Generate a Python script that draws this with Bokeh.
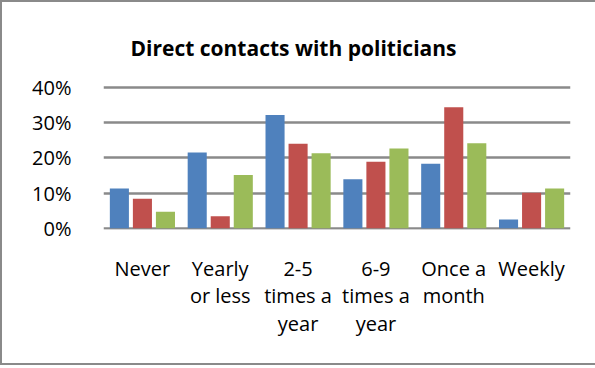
from bokeh.plotting import figure
from bokeh.models import Range1d, FactorRange, NumeralTickFormatter, FixedTicker
from bokeh.transform import dodge
from bokeh.embed import file_html
from bokeh.resources import INLINE

title_text = "Direct contacts with politicians"
categories = ["Never", "Yearly\nor less", "2-5\ntimes a\nyear", "6-9\ntimes a\nyear", "Once a\nmonth", "Weekly"]
series1 = [0.113, 0.215, 0.322, 0.139, 0.183, 0.025]
series2 = [0.084, 0.034, 0.240, 0.189, 0.344, 0.101]
series3 = [0.047, 0.151, 0.213, 0.227, 0.242, 0.113]
colors = ["#4F81BD", "#C0504D", "#9BBB59"]
y_ticks = [0.0, 0.1, 0.2, 0.3, 0.4]

data = dict(cat=categories, s1=series1, s2=series2, s3=series3)

p = figure(
    width=593, height=361,
    x_range=FactorRange(*categories, range_padding=0.0),
    y_range=Range1d(-0.0038, 0.4117),
    output_backend="svg", toolbar_location=None,
    min_border_left=101, min_border_right=27,
    min_border_top=81, min_border_bottom=138,
    title=title_text,
)
p.x_range.factor_padding = 0.0

for key, off, col in (("s1", -0.296, colors[0]), ("s2", 0.0, colors[1]), ("s3", 0.296, colors[2])):
    p.vbar(x=dodge("cat", off, range=p.x_range), top=key, bottom=0, width=0.245,
           source=data, fill_color=col, line_color=None)

p.title.align = "left"
p.title.offset = 27
p.title.vertical_align = "top"
p.title.text_font = "Open Sans"
p.title.text_font_style = "bold"
p.title.text_font_size = "21px"
p.title.text_color = "#000000"
p.title.standoff = 40

p.yaxis.ticker = FixedTicker(ticks=y_ticks)
p.yaxis.formatter = NumeralTickFormatter(format="0%")
p.yaxis.axis_line_color = None
p.yaxis.major_tick_line_color = None
p.yaxis.minor_tick_line_color = None
p.yaxis.major_label_standoff = 26
p.yaxis.major_label_text_font = "Open Sans"
p.yaxis.major_label_text_font_size = "20px"
p.yaxis.major_label_text_color = "#000000"

p.xaxis.axis_line_color = None
p.xaxis.major_tick_line_color = None
p.xaxis.minor_tick_line_color = None
p.xaxis.major_label_standoff = 19
p.xaxis.major_label_text_font = "Open Sans"
p.xaxis.major_label_text_font_size = "20px"
p.xaxis.major_label_text_color = "#000000"
p.xaxis.major_label_text_line_height = 1.03

p.xgrid.grid_line_color = None
p.ygrid.ticker = FixedTicker(ticks=y_ticks)
p.ygrid.grid_line_color = "#8a8a8a"
p.ygrid.grid_line_width = 2.5

p.outline_line_color = None
p.background_fill_color = "white"
p.border_fill_color = "white"
p.styles = {
    "box-sizing": "content-box",
    "border-left": "2px solid #8a8a8a",
    "border-top": "2px solid #8a8a8a",
    "border-bottom": "2px solid #8a8a8a",
}

open("out.html", "w").write(file_html(p, INLINE))
